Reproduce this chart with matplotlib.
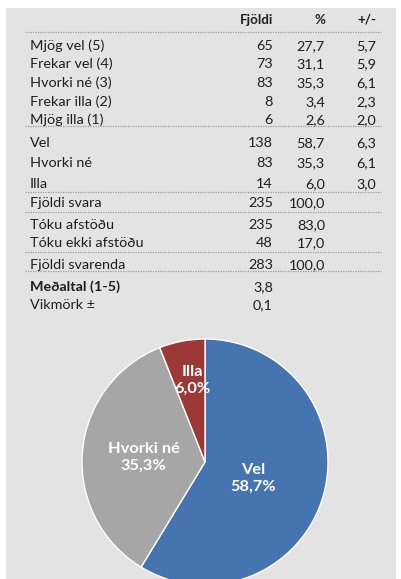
import matplotlib
matplotlib.use("Agg")
import matplotlib.pyplot as plt
from matplotlib.patches import Rectangle
from matplotlib.lines import Line2D

# ---- data ----
row_labels = ["Mjög vel (5)", "Frekar vel (4)", "Hvorki né (3)", "Frekar illa (2)", "Mjög illa (1)",
              "Vel", "Hvorki né", "Illa",
              "Fjöldi svara",
              "Tóku afstöðu", "Tóku ekki afstöðu",
              "Fjöldi svarenda",
              "Meðaltal (1-5)", "Vikmörk ±"]
counts = ["65", "73", "83", "8", "6", "138", "83", "14", "235", "235", "48", "283", "3,8", "0,1"]
pcts = ["27,7", "31,1", "35,3", "3,4", "2,6", "58,7", "35,3", "6,0", "100,0", "83,0", "17,0", "100,0", "", ""]
margins = ["5,7", "5,9", "6,1", "2,3", "2,0", "6,3", "6,1", "3,0", "", "", "", "", "", ""]
headers = ["Fjöldi", "%", "+/-"]

pie_labels = ["Vel", "Hvorki né", "Illa"]
pie_values = [58.7, 35.3, 6.0]
pie_colors = ["#4574b0", "#a6a6a6", "#9c3835"]

# ---- layout ----
W, H = 402, 579
DPI = 100
plt.rcParams['font.family'] = ['Lato', 'DejaVu Sans']
fig = plt.figure(figsize=(W / DPI, H / DPI), dpi=DPI)
fig.patch.set_facecolor("white")

def fx(px):
    return px / W

def fy(py):
    return 1 - py / H

bg = Rectangle((fx(6), 0), fx(396) - fx(6), fy(8), transform=fig.transFigure,
               facecolor="#e3e3e3", edgecolor="none", zorder=-10)
fig.add_artist(bg)

row_y = [46, 64, 83, 102, 120, 143, 163, 184, 203, 225, 243, 265, 287, 305]
line_y = [32, 126, 192, 212, 252, 271]
bold_rows = {"Meðaltal (1-5)"}
col_x = [273, 325, 376]
fs = 10.4
tc = "#1e1e1e"

for h, x in zip(headers, col_x):
    fig.text(fx(x), fy(20), h, ha="right", va="center", fontsize=fs - 0.8, fontweight="bold", color=tc)

for i, lab in enumerate(row_labels):
    y = fy(row_y[i])
    w = "bold" if lab in bold_rows else "normal"
    fig.text(fx(30), y, lab, ha="left", va="center", fontsize=fs, color=tc, fontweight=w)
    for val, x in zip([counts[i], pcts[i], margins[i]], col_x):
        if val:
            fig.text(fx(x), y, val, ha="right", va="center", fontsize=fs, color=tc)

for ly in line_y:
    fig.add_artist(Line2D([fx(25), fx(381)], [fy(ly), fy(ly)], transform=fig.transFigure,
                          color="#9a9a9a", linewidth=0.9, linestyle=(0, (1, 1))))

# ---- pie ----
cx, cy, r = 205, 462, 123
ax = fig.add_axes([fx(cx - r), fy(cy + r), fx(2 * r), (2 * r) / H])
ax.set_zorder(5)
ax.patch.set_alpha(0)
wedges, _ = ax.pie(pie_values, colors=pie_colors, startangle=90, counterclock=False, radius=1,
                   wedgeprops=dict(edgecolor="white", linewidth=1.0))
ax.set_xlim(-1, 1)
ax.set_ylim(-1, 1)
ax.set_aspect("equal")
ax.axis("off")
label_pos = [(0.39, -0.13), (-0.50, 0.04), (-0.10, 0.66)]
for lab, v, (px, py) in zip(pie_labels, pie_values, label_pos):
    ax.text(px, py, f"{lab}\n{v:.1f}%".replace(".", ","), ha="center", va="center",
            fontsize=11.8, fontweight="bold", color="white", linespacing=1.25)

fig.savefig("out.png", dpi=DPI)
